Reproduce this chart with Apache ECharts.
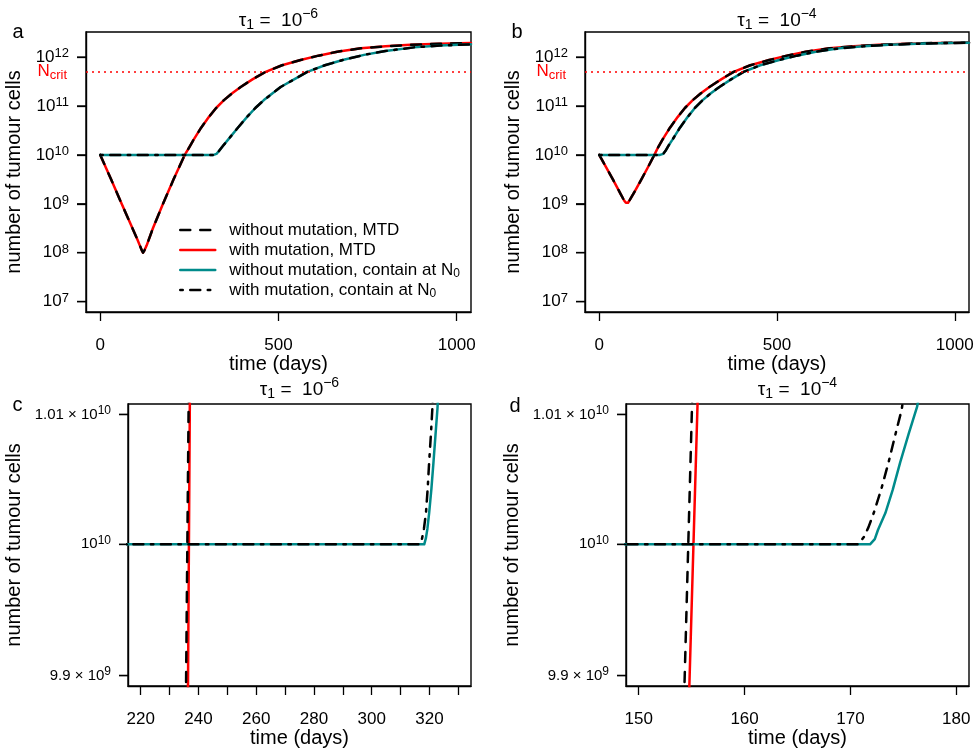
<!DOCTYPE html>
<html><head><meta charset="utf-8">
<script src="https://cdn.jsdelivr.net/npm/echarts@6/dist/echarts.min.js"></script>
<style>html,body{margin:0;padding:0;background:#fff}#chart{width:977px;height:752px}</style>
</head><body><div id="chart"></div>
<script>
// ------------------------- DATA -------------------------
const seriesNames = ['without mutation, MTD', 'with mutation, MTD',
                     'without mutation, contain at N0', 'with mutation, contain at N0'];
const Ncrit = 5e11;
const mainXlim = [0, 1000];
const mainYlim = [1e7, 2e12];
const mainXTicks = [0, 500, 1000];
const mainYTickExps = [7, 8, 9, 10, 11, 12];
const zoomYlim = [9.9e9, 1.01e10];
const zoomYTicks = [9.9e9, 1e10, 1.01e10];
const cXlim = [220, 330];
const cXTicks = [220, 230, 240, 250, 260, 270, 280, 290, 300, 310, 320, 330];
const cXLabels = [220, 240, 260, 280, 300, 320];
const dXlim = [150, 180];
const dXTicks = [150, 160, 170, 180];

// Panel a (tau1 = 1e-6): at this scale with/without mutation coincide
const aMtdTime  = [0, 30, 60, 90, 105, 112, 117, 120, 124, 130, 148, 176, 206, 237, 250, 262, 283, 305, 325, 347, 370, 394, 428, 464, 510, 562, 612, 665, 731, 800, 870, 950, 1040];
const aMtdCells = [1e10, 3.2e9, 1e9, 3.2e8, 1.8e8, 1.35e8, 1.1e8, 1e8, 1.12e8, 1.4e8, 3.2e8, 1e9, 3.2e9, 1e10, 1.45e10, 2.05e10, 3.6e10, 6e10, 9.1e10, 1.32e11, 1.82e11, 2.45e11, 3.55e11, 5e11, 6.8e11, 8.7e11, 1.07e12, 1.29e12, 1.51e12, 1.66e12, 1.78e12, 1.88e12, 1.95e12];
const aContainTime  = [0, 318, 322, 326, 333, 345, 361, 386, 412, 435, 459, 506, 545, 581, 630, 680, 740, 800, 880, 953, 1040];
const aContainCells = [1e10, 1e10, 1.01e10, 1.05e10, 1.2e10, 1.55e10, 2.15e10, 3.6e10, 6e10, 9.1e10, 1.32e11, 2.45e11, 3.55e11, 5e11, 6.8e11, 8.7e11, 1.11e12, 1.33e12, 1.58e12, 1.72e12, 1.82e12];

// Panel b (tau1 = 1e-4)
const bMtdTime  = [0, 38, 60, 70, 75, 78, 81, 86, 100, 119, 137, 155, 166, 178, 199, 221, 241, 263, 286, 310, 344, 378, 425, 478, 528, 581, 647, 716, 786, 866, 956, 1040];
const bMtdCells = [1e10, 3.2e9, 1.6e9, 1.17e9, 1.05e9, 1e9, 1.05e9, 1.2e9, 1.8e9, 3.2e9, 5.6e9, 1e10, 1.45e10, 2.05e10, 3.6e10, 6e10, 9.1e10, 1.32e11, 1.82e11, 2.45e11, 3.55e11, 5e11, 6.8e11, 8.7e11, 1.07e12, 1.29e12, 1.51e12, 1.66e12, 1.78e12, 1.88e12, 1.95e12, 1.97e12];
const bContainTime  = [0, 171, 176, 180, 186, 195, 206, 227, 249, 269, 291, 314, 338, 372, 406, 453, 506, 556, 609, 675, 744, 814, 894, 984, 1040];
const bContainCells = [1e10, 1e10, 1.01e10, 1.05e10, 1.2e10, 1.55e10, 2.05e10, 3.6e10, 6e10, 9.1e10, 1.32e11, 1.82e11, 2.45e11, 3.55e11, 5e11, 6.8e11, 8.7e11, 1.07e12, 1.29e12, 1.51e12, 1.66e12, 1.78e12, 1.88e12, 1.95e12, 1.96e12];

// Panel c (tau1 = 1e-6), zoom around N0
const cMtdNoMutTime  = [235.65, 236.65];
const cMtdNoMutCells = [9.88e9, 1.012e10];
const cMtdMutTime    = [236.35, 237.05];
const cMtdMutCells   = [9.88e9, 1.012e10];
const cConNoMutTime  = [214, 318.2, 318.8, 319.3, 319.9, 320.7, 321.4, 322.1, 322.8, 323.1];
const cConNoMutCells = [1e10, 1e10, 1.0005e10, 1.0012e10, 1.0024e10, 1.0043e10, 1.0063e10, 1.0084e10, 1.0105e10, 1.012e10];
const cConMutTime    = [214, 316.7, 317.4, 318.1, 318.8, 319.4, 319.9, 320.5, 321.0, 321.3];
const cConMutCells   = [1e10, 1e10, 1.0004e10, 1.0012e10, 1.0024e10, 1.0043e10, 1.0063e10, 1.0084e10, 1.0104e10, 1.012e10];

// Panel d (tau1 = 1e-4), zoom around N0
const dMtdNoMutTime  = [154.28, 155.08];
const dMtdNoMutCells = [9.88e9, 1.012e10];
const dMtdMutTime    = [154.74, 155.6];
const dMtdMutCells   = [9.88e9, 1.012e10];
const dConNoMutTime  = [148, 171.85, 172.3, 172.6, 173.3, 174.0, 174.7, 175.5, 176.3, 176.6];
const dConNoMutCells = [1e10, 1e10, 1.0004e10, 1.0011e10, 1.0024e10, 1.0042e10, 1.0063e10, 1.0085e10, 1.0106e10, 1.012e10];
const dConMutTime    = [148, 170.75, 171.3, 171.7, 172.2, 172.9, 173.6, 174.2, 174.85, 175.1];
const dConMutCells   = [1e10, 1e10, 1.0006e10, 1.0013e10, 1.0024e10, 1.0042e10, 1.0063e10, 1.0083e10, 1.0104e10, 1.012e10];

// ------------------------- BUILD -------------------------
const FONT = '"Liberation Sans", Arial, Helvetica, sans-serif';
const L = Math.log10;
function rExt(lo, hi) { const d = (hi - lo) * 0.04; return [lo - d, hi + d]; }
const mainX = rExt(mainXlim[0], mainXlim[1]);
const mainY = rExt(L(mainYlim[0]), L(mainYlim[1]));
const zoomY = rExt(L(zoomYlim[0]), L(zoomYlim[1]));
const cX = rExt(cXlim[0], cXlim[1]);
const dX = rExt(dXlim[0], dXlim[1]);

const styles = [
  { color: '#000000', type: [10, 10], width: 2.5 },          // without mutation, MTD
  { color: '#FF0000', type: 'solid', width: 2.5 },            // with mutation, MTD
  { color: '#008B8B', type: 'solid', width: 2.5 },            // without mutation, contain
  { color: '#000000', type: [2.5, 7.5, 10, 7.5], width: 2.5 } // with mutation, contain
];

const supRich = (base, sup, shift) => ({
  b: { fontSize: base, lineHeight: 20, fontFamily: FONT, color: '#000' },
  sup: { fontSize: sup, lineHeight: sup, fontFamily: FONT, color: '#000', padding: [0, 0, shift, 0] },
  nc: { fontSize: base, lineHeight: 20, fontFamily: FONT, color: '#FF0000' },
  ncs: { fontSize: sup, lineHeight: sup, fontFamily: FONT, color: '#FF0000', padding: [shift, 0, 0, 0] }
});

function mkLine(k, t, n, gi, extra) {
  const st = styles[k];
  return Object.assign({
    type: 'line', name: seriesNames[k], xAxisIndex: gi, yAxisIndex: gi,
    data: t.map((x, i) => [x, L(n[i])]),
    symbol: 'none', showSymbol: false, clip: true, silent: true, animation: false,
    itemStyle: { color: st.color },
    lineStyle: { color: st.color, width: st.width, type: st.type, cap: 'round', join: 'round' }
  }, extra || {});
}
// N_crit dotted line with its red label to the left of the box
const ncritMark = {
  clip: false,
  markLine: {
    silent: true, symbol: ['none', 'none'], animation: false,
    label: { show: true, position: 'start', distance: 19, formatter: '{nc|N}{ncs|crit}', rich: supRich(17, 13, 8) },
    lineStyle: { color: '#FF0000', type: [2, 4], width: 1.5 },
    data: [{ yAxis: L(Ncrit) }]
  }
};

const series = [];
// draw order: red, black dashed, teal, black dot-dash
[[aMtdTime, aMtdCells, aContainTime, aContainCells, 0], [bMtdTime, bMtdCells, bContainTime, bContainCells, 1]].forEach(p => {
  series.push(mkLine(1, p[0], p[1], p[4], ncritMark));
  series.push(mkLine(0, p[0], p[1], p[4]));
  series.push(mkLine(2, p[2], p[3], p[4]));
  series.push(mkLine(3, p[2], p[3], p[4]));
});
series.push(mkLine(1, cMtdMutTime, cMtdMutCells, 2));
series.push(mkLine(0, cMtdNoMutTime, cMtdNoMutCells, 2));
series.push(mkLine(2, cConNoMutTime, cConNoMutCells, 2));
series.push(mkLine(3, cConMutTime, cConMutCells, 2));
series.push(mkLine(1, dMtdMutTime, dMtdMutCells, 3));
series.push(mkLine(0, dMtdNoMutTime, dMtdNoMutCells, 3));
series.push(mkLine(2, dConNoMutTime, dConNoMutCells, 3));
series.push(mkLine(3, dConMutTime, dConMutCells, 3));

function tick(values) {
  return { show: true, inside: false, length: 9, lineStyle: { color: '#000', width: 1.3 }, customValues: values };
}
const lineOpt = { show: true, onZero: false, lineStyle: { color: '#000', width: 1.4 } };
function xAx(gi, ext, ticks, labels) {
  return {
    type: 'value', gridIndex: gi, min: ext[0], max: ext[1],
    axisLine: lineOpt, splitLine: { show: false },
    axisTick: tick(ticks),
    axisLabel: { color: '#000', fontSize: 17, fontFamily: FONT, margin: 25, customValues: labels,
                 formatter: v => String(Math.round(v)) },
    name: 'time (days)', nameLocation: 'middle', nameGap: 42,
    nameTextStyle: { fontSize: 20, color: '#000', fontFamily: FONT }
  };
}
function mainYAx(gi) {
  return {
    type: 'value', gridIndex: gi, min: mainY[0], max: mainY[1],
    axisLine: lineOpt, splitLine: { show: false },
    axisTick: tick(mainYTickExps),
    axisLabel: {
      customValues: mainYTickExps, margin: 17,
      formatter: v => '{b|10}{sup|' + Math.round(v) + '}',
      rich: supRich(17, 13, 7)
    },
    name: 'number of tumour cells', nameLocation: 'middle', nameRotate: 90, nameGap: 62,
    nameTextStyle: { fontSize: 20, color: '#000', fontFamily: FONT }
  };
}
function zoomLabel(v) {
  const n = Math.pow(10, v);
  const e = Math.floor(L(n) + 1e-9);
  const m = parseFloat((n / Math.pow(10, e)).toFixed(2));
  return (Math.abs(m - 1) < 1e-9 ? '{b|10}' : '{b|' + m + ' × 10}') + '{sup|' + e + '}';
}
function zoomYAx(gi) {
  return {
    type: 'value', gridIndex: gi, min: zoomY[0], max: zoomY[1],
    axisLine: lineOpt, splitLine: { show: false },
    axisTick: tick(zoomYTicks.map(L)),
    axisLabel: { customValues: zoomYTicks.map(L), margin: 17, formatter: zoomLabel, rich: supRich(15, 12, 7) },
    name: 'number of tumour cells', nameLocation: 'middle', nameRotate: 90, nameGap: 104,
    nameTextStyle: { fontSize: 20, color: '#000', fontFamily: FONT }
  };
}

const gridBase = { show: true, borderColor: '#000', borderWidth: 1.4 };
const titleRich = {
  s: { fontSize: 14, lineHeight: 14, padding: [8, 0, 0, 0], fontFamily: FONT, fill: '#000' },
  p: { fontSize: 14, lineHeight: 14, padding: [0, 0, 14, 0], fontFamily: FONT, fill: '#000' }
};
function titleText(x, y, exp) {
  return { type: 'text', x: x, y: y, silent: true,
    style: { text: 'τ{s|1} =  10{p|' + exp + '}', fontSize: 19, lineHeight: 26, fontFamily: FONT, fill: '#000',
             align: 'center', verticalAlign: 'middle', rich: titleRich } };
}
function panelLabel(x, y, t) {
  return { type: 'text', x: x, y: y, silent: true,
    style: { text: t, fontSize: 20, fontFamily: FONT, fill: '#000', align: 'center', verticalAlign: 'middle' } };
}
const textGraphics = [
  titleText(278.5, 21, '−6'), titleText(777, 21, '−4'),
  titleText(299.5, 390, '−6'), titleText(797.5, 390, '−4'),
  panelLabel(18, 32, 'a'), panelLabel(517, 32, 'b'),
  panelLabel(17.5, 405, 'c'), panelLabel(515, 406, 'd')
];

const option = {
  animation: false,
  textStyle: { fontFamily: FONT },
  grid: [
    Object.assign({ left: 86, top: 32, width: 385, height: 280 }, gridBase),
    Object.assign({ left: 585, top: 32, width: 384, height: 280 }, gridBase),
    Object.assign({ left: 128, top: 404, width: 343, height: 282 }, gridBase),
    Object.assign({ left: 626, top: 404, width: 343, height: 282 }, gridBase)
  ],
  xAxis: [xAx(0, mainX, mainXTicks, mainXTicks), xAx(1, mainX, mainXTicks, mainXTicks),
          xAx(2, cX, cXTicks, cXLabels), xAx(3, dX, dXTicks, dXTicks)],
  yAxis: [mainYAx(0), mainYAx(1), zoomYAx(2), zoomYAx(3)],
  legend: {
    data: seriesNames, left: 174, top: 215, orient: 'vertical', itemWidth: 35, itemHeight: 14, itemGap: 0,
    selectedMode: false, lineStyle: { width: 2.5 },
    itemStyle: { color: 'rgba(0,0,0,0)', borderWidth: 0, opacity: 0 },
    textStyle: { fontSize: 17, color: '#000', fontFamily: FONT, lineHeight: 20, padding: [0, 0, 0, 9],
      rich: { sub: { fontSize: 12, lineHeight: 12, padding: [8, 0, 0, 0], fontFamily: FONT, color: '#000' } } },
    formatter: n => n.replace(/N0$/, 'N{sub|0}')
  },
  graphic: textGraphics,
  series: series
};
const chart = echarts.init(document.getElementById('chart'), null, { renderer: 'canvas' });
chart.setOption(option);

// Outward y-axis tick marks at the tick values, positioned through each panel's own scales
const yTickDefs = [[0, mainX[0], mainYTickExps], [1, mainX[0], mainYTickExps],
                   [2, cX[0], zoomYTicks.map(L)], [3, dX[0], zoomYTicks.map(L)]];
const tickEls = [];
yTickDefs.forEach(([gi, x0, vals]) => vals.forEach(v => {
  const p = chart.convertToPixel({ gridIndex: gi }, [x0, v]);
  if (p) tickEls.push({ type: 'line', z: 100, silent: true,
    shape: { x1: p[0] - 9, y1: p[1], x2: p[0], y2: p[1] },
    style: { stroke: '#000', lineWidth: 1.4 } });
}));
chart.setOption({ graphic: textGraphics.concat(tickEls) });
</script></body></html>
